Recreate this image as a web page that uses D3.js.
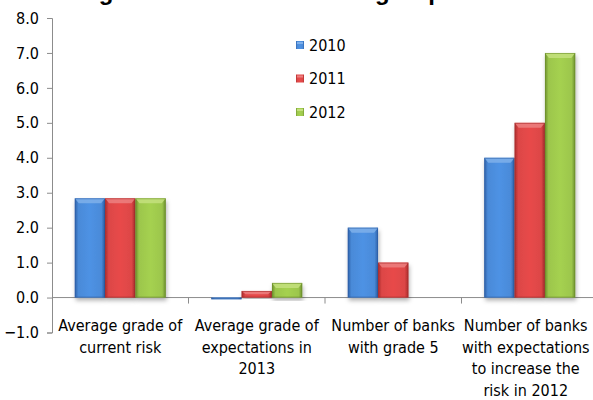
<!DOCTYPE html>
<html><head><meta charset="utf-8">
<script src="https://cdn.jsdelivr.net/npm/d3@7"></script>
<style>body{margin:0;background:#fff}svg{display:block}</style>
</head><body>
<svg id="c" width="593" height="400"></svg>
<script>
const categories = [
  ["Average grade of","current risk"],
  ["Average grade of","expectations  in","2013"],
  ["Number of banks","with grade 5"],
  ["Number of banks","with expectations","to increase the","risk in 2012"]
];
const seriesNames = ["2010","2011","2012"];
const s2010 = [2.84, -0.05, 2, 4];
const s2011 = [2.84, 0.19, 1, 5];
const s2012 = [2.84, 0.42, null, 7];
const yTicks = [-1,0,1,2,3,4,5,6,7,8];
const titleText = "Average risk rank of the bank group";

const series = [s2010, s2011, s2012];
const colors = [
  {mid:"#4a8ad8", edge:"#2d5fa6", top:"#7fb0ea"},
  {mid:"#dc4646", edge:"#a82c2c", top:"#ec8080"},
  {mid:"#9cc64c", edge:"#6c8e2c", top:"#c4e07e"}
];
const font = "'DejaVu Sans Condensed','DejaVu Sans',sans-serif";

const svg = d3.select("#c");
const defs = svg.append("defs");
colors.forEach((c,i)=>{
  const g = defs.append("linearGradient").attr("id","g"+i).attr("x1","0").attr("x2","1").attr("y1","0").attr("y2","0");
  g.append("stop").attr("offset","0").attr("stop-color",c.edge);
  g.append("stop").attr("offset","0.12").attr("stop-color",c.mid);
  g.append("stop").attr("offset","0.5").attr("stop-color",d3.color(c.mid).brighter(0.15));
  g.append("stop").attr("offset","0.88").attr("stop-color",c.mid);
  g.append("stop").attr("offset","1").attr("stop-color",c.edge);
});
const f = defs.append("filter").attr("id","sh").attr("x","-20%").attr("y","-20%").attr("width","140%").attr("height","140%");
f.append("feDropShadow").attr("dx",1).attr("dy",3).attr("stdDeviation",2).attr("flood-color","#000").attr("flood-opacity",0.3);

const left = 52, right = 598;
const y = d3.scaleLinear().domain([-1,8]).range([332.5,18]);
const x0 = d3.scaleBand().domain(d3.range(categories.length)).range([left,right]).paddingInner(0).paddingOuter(0);
const inner = x0.bandwidth()*3/4.5;
const x1 = d3.scaleBand().domain(d3.range(3)).range([0,inner]);

// title (clipped at top, as in the reference)
svg.append("text").attr("x",33).attr("y",0).attr("font-family","'Liberation Sans',Arial,sans-serif")
  .attr("font-weight","bold").attr("font-size",24).attr("fill","#000").text(titleText);

// axes
const yAxis = d3.axisLeft(y).tickValues(yTicks).tickFormat(d3.format(".1f")).tickSize(5).tickPadding(8);
const ga = svg.append("g").attr("transform",`translate(${left},0)`).call(yAxis);
ga.select(".domain").attr("stroke","#8c8c8c");
ga.selectAll(".tick line").attr("stroke","#8c8c8c");
ga.selectAll(".tick text").attr("font-family",font).attr("font-size",16).attr("fill","#000");

const xa = svg.append("g");
xa.append("line").attr("x1",left).attr("x2",593).attr("y1",y(0)).attr("y2",y(0)).attr("stroke","#8c8c8c");
d3.range(1,categories.length).forEach(i=>{
  xa.append("line").attr("x1",x0(i)).attr("x2",x0(i)).attr("y1",y(0)).attr("y2",y(0)+6).attr("stroke","#8c8c8c");
});

// bars
categories.forEach((c,ci)=>{
  const gx = x0(ci) + (x0.bandwidth()-inner)/2;
  series.forEach((s,si)=>{
    const v = s[ci];
    if (v===null) return;
    const bx = gx + x1(si), bw = x1.bandwidth();
    const yt = y(Math.max(v,0)), yb = y(Math.min(v,0));
    const h = Math.max(yb-yt,1.5);
    const g = svg.append("g");
    g.append("rect").attr("x",bx).attr("y",yt).attr("width",bw).attr("height",h)
      .attr("fill",`url(#g${si})`).attr("filter","url(#sh)");
    const bev = Math.min(5, h/2);
    g.append("path").attr("d",`M${bx},${yt}L${bx+bw},${yt}L${bx+bw-4},${yt+bev}L${bx+4},${yt+bev}Z`)
      .attr("fill",colors[si].top).attr("opacity",0.85);
    g.append("rect").attr("x",bx+0.5).attr("y",yt+0.5).attr("width",bw-1).attr("height",Math.max(h-1,0.5))
      .attr("fill","none").attr("stroke",colors[si].edge).attr("stroke-width",0.8).attr("opacity",0.7);
  });
});

// category labels
categories.forEach((lines,ci)=>{
  const cx = x0(ci)+x0.bandwidth()/2 - (ci===3?4:0);
  const t = svg.append("text").attr("x",cx).attr("y",331)
    .attr("text-anchor","middle").attr("font-family",font).attr("font-size",16).attr("fill","#000");
  lines.forEach((l,li)=>t.append("tspan").attr("x",cx).attr("dy",li?21.5:0).text(l));
});

// legend
const lg = svg.append("g");
seriesNames.forEach((n,i)=>{
  const cy = 45 + i*33.5;
  lg.append("rect").attr("x",296).attr("y",cy-4).attr("width",8).attr("height",8).attr("fill",`url(#g${i})`);
  lg.append("rect").attr("x",297).attr("y",cy-3).attr("width",6).attr("height",2).attr("fill",colors[i].top);
  lg.append("text").attr("x",309).attr("y",cy+5.5).attr("font-family",font).attr("font-size",16).attr("fill","#000").text(n);
});
</script>
</body></html>
